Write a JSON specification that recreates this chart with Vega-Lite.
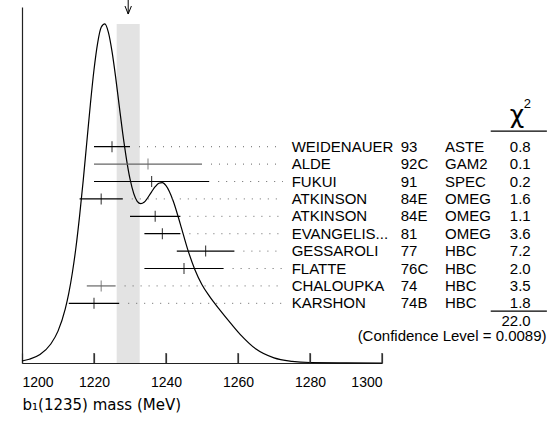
{
  "$schema": "https://vega.github.io/schema/vega-lite/v6.json",
  "width": 360,
  "height": 356,
  "autosize": {"type": "none"},
  "padding": {"left": 22, "top": 7, "right": 165, "bottom": 62},
  "background": "white",
  "config": {"view": {"stroke": null}, "font": "Liberation Sans"},
  "datasets": {
    "curve": [
      {"m": 1200, "h": 0.006}, {"m": 1202, "h": 0.011}, {"m": 1205, "h": 0.025}, {"m": 1208, "h": 0.056},
      {"m": 1210, "h": 0.094}, {"m": 1212, "h": 0.159}, {"m": 1213, "h": 0.206}, {"m": 1214, "h": 0.267},
      {"m": 1215, "h": 0.342}, {"m": 1216, "h": 0.434}, {"m": 1217, "h": 0.538}, {"m": 1218, "h": 0.651},
      {"m": 1219, "h": 0.764}, {"m": 1220, "h": 0.865}, {"m": 1221, "h": 0.943}, {"m": 1222, "h": 0.99},
      {"m": 1223, "h": 1.0}, {"m": 1224, "h": 0.975}, {"m": 1225, "h": 0.919}, {"m": 1226, "h": 0.844},
      {"m": 1227, "h": 0.759}, {"m": 1228, "h": 0.676}, {"m": 1230, "h": 0.543}, {"m": 1232, "h": 0.477},
      {"m": 1233, "h": 0.47}, {"m": 1234, "h": 0.475}, {"m": 1236, "h": 0.505}, {"m": 1237, "h": 0.52},
      {"m": 1238, "h": 0.53}, {"m": 1239, "h": 0.532}, {"m": 1240, "h": 0.523}, {"m": 1242, "h": 0.478},
      {"m": 1244, "h": 0.409}, {"m": 1246, "h": 0.336}, {"m": 1248, "h": 0.276}, {"m": 1250, "h": 0.231},
      {"m": 1252, "h": 0.198}, {"m": 1255, "h": 0.156}, {"m": 1258, "h": 0.117}, {"m": 1261, "h": 0.08},
      {"m": 1265, "h": 0.041}, {"m": 1270, "h": 0.015}, {"m": 1275, "h": 0.005}, {"m": 1280, "h": 0.0014},
      {"m": 1290, "h": 0.0004}, {"m": 1300, "h": 0.0}
    ],
    "fit": [{"value": 1229.5, "lo": 1226.3, "hi": 1232.7}],
    "gridmarks": [{"t": 1220}, {"t": 1240}, {"t": 1260}, {"t": 1280}, {"t": 1300}],
    "meas": [
      {"row": 10, "name": "WEIDENAUER", "ref": "93", "exp": "ASTE", "chi": 0.8, "val": 1225, "lo": 1220, "hi": 1230},
      {"row": 9, "name": "ALDE", "ref": "92C", "exp": "GAM2", "chi": 0.1, "val": 1235, "lo": 1220, "hi": 1250},
      {"row": 8, "name": "FUKUI", "ref": "91", "exp": "SPEC", "chi": 0.2, "val": 1236, "lo": 1220, "hi": 1252},
      {"row": 7, "name": "ATKINSON", "ref": "84E", "exp": "OMEG", "chi": 1.6, "val": 1222, "lo": 1216, "hi": 1228},
      {"row": 6, "name": "ATKINSON", "ref": "84E", "exp": "OMEG", "chi": 1.1, "val": 1237, "lo": 1230, "hi": 1244},
      {"row": 5, "name": "EVANGELIS...", "ref": "81", "exp": "OMEG", "chi": 3.6, "val": 1239, "lo": 1234, "hi": 1244},
      {"row": 4, "name": "GESSAROLI", "ref": "77", "exp": "HBC", "chi": 7.2, "val": 1251, "lo": 1243, "hi": 1259},
      {"row": 3, "name": "FLATTE", "ref": "76C", "exp": "HBC", "chi": 2.0, "val": 1245, "lo": 1234, "hi": 1256},
      {"row": 2, "name": "CHALOUPKA", "ref": "74", "exp": "HBC", "chi": 3.5, "val": 1222, "lo": 1218, "hi": 1226},
      {"row": 1, "name": "KARSHON", "ref": "74B", "exp": "HBC", "chi": 1.8, "val": 1220, "lo": 1213, "hi": 1227}
    ],
    "totals": [{"total": "22.0", "cl": "(Confidence Level = 0.0089)", "head": "χ", "sup": "2"}]
  },
  "layer": [
    {
      "resolve": {"axis": {"x": "independent"}},
      "layer": [
        {
          "data": {"name": "fit"},
          "mark": {"type": "rect", "color": "#e3e3e3"},
          "encoding": {
            "x": {
              "field": "lo", "type": "quantitative",
              "scale": {"domain": [1200, 1300], "nice": false, "zero": false},
              "axis": {
                "orient": "top", "offset": -356, "values": [1200, 1220, 1240, 1260, 1280, 1300],
                "labels": false, "domain": false, "grid": false, "ticks": true, "tickSize": 10,
                "tickColor": "#333", "tickWidth": 1.2, "title": null
              }
            },
            "x2": {"field": "hi"},
            "y": {"datum": 0, "type": "quantitative", "scale": {"domain": [0, 1.05], "nice": false}},
            "y2": {"datum": 1.0}
          }
        },
        {
          "data": {"name": "curve"},
          "mark": {"type": "line", "color": "#000", "strokeWidth": 1.2, "interpolate": "monotone"},
          "encoding": {
            "x": {
              "field": "m", "type": "quantitative",
              "scale": {"domain": [1200, 1300], "nice": false, "zero": false},
              "axis": {
                "orient": "bottom",
                "values": [1200, 1220, 1240, 1260, 1280, 1300], "format": "d",
                "grid": false, "ticks": false,
                "domainColor": "#222", "domainWidth": 1.2,
                "labelFontSize": 14, "labelColor": "#000", "labelPadding": 12,
                "labelFont": "Liberation Sans",
                "title": "b₁(1235) mass (MeV)", "titleFont": "DejaVu Sans", "titleFontWeight": "normal",
                "titleFontSize": 15, "titleColor": "#000",
                "titleAnchor": "start", "titleAlign": "left", "titleX": 0, "titleY": 41, "titleBaseline": "middle"
              }
            },
            "y": {
              "field": "h", "type": "quantitative",
              "scale": {"domain": [0, 1.05], "nice": false},
              "axis": {"ticks": false, "labels": false, "grid": false, "title": null, "domainColor": "#222", "domainWidth": 1.2}
            }
          }
        },
        {
          "data": {"name": "fit"},
          "mark": {"type": "rule", "color": "#000", "strokeWidth": 1},
          "encoding": {
            "x": {"field": "value", "type": "quantitative", "axis": null},
            "y": {"datum": 1.0706, "type": "quantitative"},
            "y2": {"datum": 1.0293}
          }
        },
        {
          "data": {"name": "fit"},
          "mark": {"type": "point", "shape": "M-0.8,-1L0,1L0.8,-1", "filled": false, "stroke": "#000", "strokeWidth": 1, "size": 64, "opacity": 1},
          "encoding": {
            "x": {"field": "value", "type": "quantitative", "axis": null},
            "y": {"datum": 1.0411, "type": "quantitative"}
          }
        },
        {
          "data": {"name": "gridmarks"},
          "mark": {"type": "rule", "color": "#333", "strokeWidth": 1.2},
          "encoding": {
            "x": {"field": "t", "type": "quantitative", "axis": null},
            "y": {"datum": 0, "type": "quantitative"},
            "y2": {"datum": 0.0295}
          }
        }
      ]
    },
    {
      "data": {"name": "meas"},
      "encoding": {
        "y": {"field": "row", "type": "quantitative", "scale": {"domain": [-2.43, 18.03], "nice": false, "zero": false}, "axis": null}
      },
      "layer": [
        {
          "mark": {"type": "rule", "strokeDash": [1, 7], "color": "#666", "strokeWidth": 1, "xOffset": 9},
          "encoding": {
            "x": {"field": "hi", "type": "quantitative", "axis": null},
            "x2": {"datum": 1272.5}
          }
        },
        {
          "mark": {"type": "rule", "strokeWidth": 1.2},
          "encoding": {
            "x": {"field": "lo", "type": "quantitative", "axis": null},
            "x2": {"field": "hi"},
            "color": {"condition": {"test": "datum.name === 'ALDE' || datum.name === 'CHALOUPKA'", "value": "#666"}, "value": "#000"}
          }
        },
        {
          "mark": {"type": "tick", "orient": "vertical", "size": 11, "thickness": 1.2},
          "encoding": {
            "x": {"field": "val", "type": "quantitative", "axis": null},
            "color": {"condition": {"test": "datum.name === 'ALDE' || datum.name === 'CHALOUPKA'", "value": "#666"}, "value": "#000"}
          }
        },
        {
          "mark": {"type": "text", "align": "left", "baseline": "middle", "fontSize": 15, "color": "#000"},
          "encoding": {"x": {"datum": 1274.9, "type": "quantitative", "axis": null}, "text": {"field": "name"}}
        },
        {
          "mark": {"type": "text", "align": "left", "baseline": "middle", "fontSize": 15, "color": "#000"},
          "encoding": {"x": {"datum": 1305.2, "type": "quantitative", "axis": null}, "text": {"field": "ref"}}
        },
        {
          "mark": {"type": "text", "align": "left", "baseline": "middle", "fontSize": 15, "color": "#000"},
          "encoding": {"x": {"datum": 1317.5, "type": "quantitative", "axis": null}, "text": {"field": "exp"}}
        },
        {
          "mark": {"type": "text", "align": "right", "baseline": "middle", "fontSize": 15, "color": "#000"},
          "encoding": {"x": {"datum": 1341.3, "type": "quantitative", "axis": null}, "text": {"field": "chi", "format": ".1f"}}
        }
      ]
    },
    {
      "data": {"name": "totals"},
      "layer": [
        {
          "mark": {"type": "text", "align": "right", "baseline": "middle", "fontSize": 15, "color": "#000"},
          "encoding": {
            "x": {"datum": 1341.3, "type": "quantitative", "axis": null},
            "y": {"datum": 0, "type": "quantitative", "scale": {"domain": [-2.43, 18.03], "nice": false, "zero": false}, "axis": null},
            "text": {"field": "total"}
          }
        },
        {
          "mark": {"type": "text", "align": "right", "baseline": "middle", "fontSize": 15, "color": "#000"},
          "encoding": {
            "x": {"datum": 1345.7, "type": "quantitative", "axis": null},
            "y": {"datum": -0.88, "type": "quantitative", "axis": null},
            "text": {"field": "cl"}
          }
        },
        {
          "mark": {"type": "rule", "color": "#000", "strokeWidth": 1.2},
          "encoding": {
            "x": {"datum": 1330.2, "type": "quantitative", "axis": null},
            "x2": {"datum": 1345.8},
            "y": {"datum": 0.557, "type": "quantitative", "axis": null}
          }
        },
        {
          "mark": {"type": "rule", "color": "#000", "strokeWidth": 1.2},
          "encoding": {
            "x": {"datum": 1330.2, "type": "quantitative", "axis": null},
            "x2": {"datum": 1345.8},
            "y": {"datum": 10.9, "type": "quantitative", "axis": null}
          }
        },
        {
          "mark": {"type": "text", "align": "center", "baseline": "alphabetic", "fontSize": 25, "font": "DejaVu Sans", "color": "#000"},
          "encoding": {
            "x": {"datum": 1337.5, "type": "quantitative", "axis": null},
            "y": {"datum": 11.36, "type": "quantitative", "axis": null},
            "text": {"field": "head"}
          }
        },
        {
          "mark": {"type": "text", "align": "left", "baseline": "alphabetic", "fontSize": 13, "color": "#000"},
          "encoding": {
            "x": {"datum": 1339.4, "type": "quantitative", "axis": null},
            "y": {"datum": 12.25, "type": "quantitative", "axis": null},
            "text": {"field": "sup"}
          }
        }
      ]
    }
  ],
  "resolve": {"scale": {"y": "independent"}}
}
